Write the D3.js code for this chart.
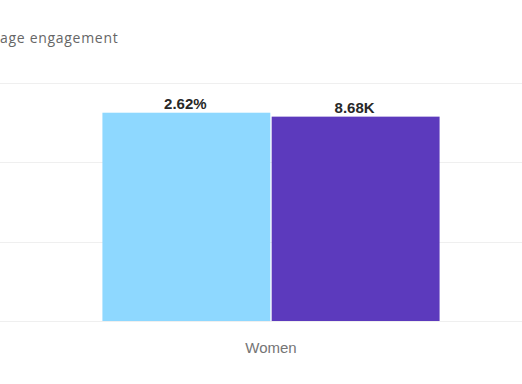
<!DOCTYPE html>
<html>
<head>
<meta charset="utf-8">
<script src="https://d3js.org/d3.v7.min.js"></script>
<style>
  body { margin: 0; background: #fff; }
  svg { display: block; font-family: "Liberation Sans", Arial, sans-serif; }
</style>
</head>
<body>
<svg width="522" height="384"></svg>
<script>
var categories = ["Women"];
var series = ["Engagement rate", "Impressions"];
var engagementRate = [2.62];      // percent
var impressions = [8.68];         // thousands
var valueLabels = [["2.62%", "8.68K"]];
var colors = ["#8ed8ff", "#5c3abd"];

var svg = d3.select("svg");
var plotTop = 82.5, plotBottom = 321;

var yL = d3.scaleLinear().domain([0, 3]).range([plotBottom, plotTop]);
var yR = d3.scaleLinear().domain([0, 10.13]).range([plotBottom, plotTop]);

var x0 = d3.scaleBand().domain(categories).range([0, 542]).paddingInner(0.233).paddingOuter(0.233);
var x1 = d3.scaleBand().domain(series).range([0, x0.bandwidth()]).paddingInner(0.008);

// title (cropped at left edge)
svg.append("text")
    .attr("x", 0).attr("y", 43)
    .attr("fill", "#666")
    .style("font-family", "'Open Sans', sans-serif")
    .style("font-size", "14px")
    .style("letter-spacing", "0.7px")
    .text("age engagement");

// gridlines
svg.append("g").selectAll("line")
    .data(yL.ticks(3))
    .enter().append("line")
    .attr("x1", 0).attr("x2", 522)
    .attr("y1", function(d) { return Math.round(yL(d)) + 0.5; })
    .attr("y2", function(d) { return Math.round(yL(d)) + 0.5; })
    .attr("stroke", "#efefef");

var groups = svg.append("g").selectAll("g")
    .data(categories)
    .enter().append("g")
    .attr("transform", function(d) { return "translate(" + x0(d) + ",0)"; });

var bars = groups.selectAll("rect")
    .data(function(d, i) {
        return [
            {s: series[0], v: engagementRate[i], y: yL, label: valueLabels[i][0], c: colors[0]},
            {s: series[1], v: impressions[i], y: yR, label: valueLabels[i][1], c: colors[1]}
        ];
    })
    .enter();

bars.append("rect")
    .attr("x", function(d) { return x1(d.s); })
    .attr("width", x1.bandwidth())
    .attr("y", function(d) { return d.y(d.v); })
    .attr("height", function(d) { return plotBottom - d.y(d.v); })
    .attr("fill", function(d) { return d.c; });

bars.append("text")
    .attr("x", function(d) { return x1(d.s) + x1.bandwidth() / 2 - 1; })
    .attr("y", function(d) { return d.y(d.v) - 4; })
    .attr("text-anchor", "middle")
    .attr("fill", "#282828")
    .style("font-size", "15px")
    .style("font-weight", "bold")
    .text(function(d) { return d.label; });

// category label
svg.append("g").selectAll("text")
    .data(categories)
    .enter().append("text")
    .attr("x", function(d) { return x0(d) + x0.bandwidth() / 2; })
    .attr("y", 353)
    .attr("text-anchor", "middle")
    .attr("fill", "#757575")
    .style("font-size", "15px")
    .text(function(d) { return d; });
</script>
</body>
</html>
